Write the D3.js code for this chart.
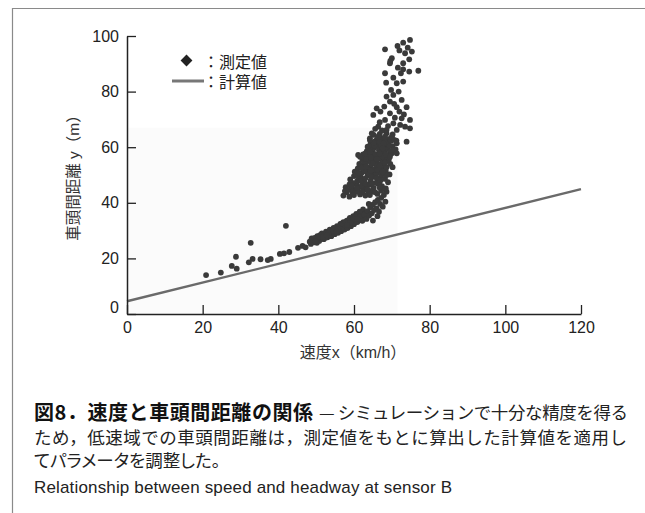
<!DOCTYPE html>
<html>
<head>
<meta charset="utf-8">
<script src="https://cdn.jsdelivr.net/npm/d3@7"></script>
<style>
html, body { margin: 0; padding: 0; background: #fff; }
svg { display: block; }
</style>
</head>
<body>
<div id="chart"></div>
<script>
"use strict";

// axis ticks
var xTicks = [0, 20, 40, 60, 80, 100, 120];
var yTicks = [0, 20, 40, 60, 80, 100];

// calculated headway (計算値): speed km/h -> headway m
var calcSpeed = [0, 120];
var calcHeadway = [4.6, 44.9];

var lowSpeedPts = [
	[20.9,14.0],[24.8,14.9],[27.7,17.3],[29.0,16.3],[28.8,20.6],[32.7,25.6],[32.2,18.6],
	[33.2,19.8],[35.3,19.7],[37.2,19.4],[38.0,19.8],[40.4,21.6],[41.5,21.8],[42.9,22.3],
	[42.0,31.7],[45.2,23.8],[46.4,24.5],[47.2,24.0],[49.2,26.4]
];
var bandPts = [
	[48.3,26.0],[48.8,27.2],[49.5,25.8],[50.0,26.8],[50.3,28.0],[50.8,26.3],[51.2,27.5],
	[51.5,29.0],[52.0,26.9],[52.2,28.2],[52.6,29.6],[53.0,27.6],[53.3,28.8],[53.6,30.3],
	[54.0,28.0],[54.2,29.4],[54.6,31.0],[54.9,28.7],[55.2,30.1],[55.5,31.6],[55.8,29.2],
	[56.1,30.6],[56.4,32.4],[56.6,29.8],[57.0,31.2],[57.2,33.0],[57.5,30.4],[57.8,31.9],
	[58.1,33.6],[58.3,30.9],[58.6,32.5],[58.9,34.6],[59.2,31.6],[59.5,33.2],[59.8,35.2],
	[60.0,32.3],[60.3,34.0],[60.6,36.0],[60.9,33.1],[61.2,34.8],[61.5,36.8],[61.8,33.8],
	[62.1,35.6],[62.4,37.6],[62.8,34.6],[63.2,36.4],[48.6,25.2],[49.6,27.4],[51.0,28.4],
	[52.4,27.4],[53.8,29.6],[55.0,30.8],[56.2,31.6],[57.4,32.2],[58.6,33.8],[59.8,34.2],
	[61.0,35.6],[62.0,36.6],[50.2,25.6],[49.0,26.2],[50.6,27.6],[51.8,27.8],[53.2,29.0],
	[54.4,30.0],[55.6,30.4],[56.8,32.6],[57.8,33.0],[59.0,32.8],[60.4,35.2],[61.6,35.0],
	[62.6,35.8],[49.8,26.2],[52.8,28.4],[55.4,29.6],[58.2,32.0],[60.8,34.2]
];
var armPts = [
	[62.2,33.5],[62.8,35.8],[63.3,34.2],[63.6,37.0],[64.0,35.4],[64.3,38.4],[64.7,36.2],
	[65.0,39.3],[65.3,37.4],[65.6,40.2],[66.0,38.0],[66.3,41.0],[66.6,36.8],[66.9,39.6],
	[67.2,41.8],[67.6,38.6],[67.9,42.8],[68.3,40.4],[68.6,44.0],[63.9,39.6],[65.0,33.6],
	[66.2,35.2]
];
var clusterPts = [
	[57.2,42.6],[58.0,43.8],[58.8,42.2],[59.6,43.4],[60.4,44.2],[61.6,43.0],[62.6,44.6],
	[63.8,43.6],[65.0,44.8],[66.2,43.2],[67.2,44.4],[57.8,45.6],[58.8,46.6],[59.6,45.2],
	[60.6,46.8],[61.4,45.6],[62.4,47.0],[63.2,45.8],[64.2,46.6],[65.2,45.4],[66.4,46.8],
	[67.4,46.0],[68.4,45.2],[59.0,48.4],[60.0,49.6],[60.8,47.8],[61.8,49.2],[62.6,48.2],
	[63.6,49.8],[64.4,48.0],[65.4,49.4],[66.2,48.4],[67.2,49.8],[68.2,48.6],[69.0,47.4],
	[60.2,51.2],[61.0,52.4],[61.8,50.6],[62.6,52.0],[63.4,51.0],[64.2,52.8],[65.0,50.8],
	[65.8,52.2],[66.6,51.0],[67.4,52.6],[68.4,51.4],[69.4,50.2],[61.4,54.0],[62.2,55.4],
	[63.0,53.6],[63.8,55.0],[64.6,53.8],[65.4,55.6],[66.2,54.2],[67.0,55.8],[67.8,53.6],
	[68.6,55.0],[69.6,54.0],[70.2,52.8],[62.4,57.4],[63.4,58.6],[64.2,56.8],[65.0,58.2],
	[65.8,56.6],[66.6,58.8],[67.4,57.2],[68.2,58.6],[69.0,56.6],[70.0,57.8],[61.1,57.2],
	[63.6,60.2],[64.4,61.4],[65.2,59.6],[66.0,61.0],[66.8,59.4],[67.6,61.6],[68.4,60.2],
	[69.2,61.8],[70.2,60.4],[71.0,59.2],[64.2,63.2],[65.2,64.4],[66.0,62.6],[66.8,64.8],
	[67.6,63.2],[68.6,65.0],[69.4,63.0],[70.2,64.6],[71.2,62.4],[57.6,44.2],[59.2,44.8],
	[60.0,42.8],[61.0,44.0],[62.0,46.0],[63.0,42.6],[64.6,44.0],[65.8,47.2],[66.8,45.4],
	[59.6,47.2],[61.2,48.6],[62.0,50.8],[63.0,47.0],[64.0,50.6],[64.8,47.0],[65.8,50.2],
	[66.8,47.6],[67.8,50.8],[68.6,50.0],[60.6,50.2],[61.8,53.4],[62.8,54.6],[63.6,52.2],
	[64.4,55.0],[65.2,52.0],[66.0,53.4],[66.8,56.2],[67.6,54.6],[68.6,52.8],[69.2,55.6],
	[62.8,56.0],[63.8,57.4],[64.6,59.4],[65.6,57.4],[66.4,60.0],[67.2,58.2],[68.0,56.2],
	[68.8,59.4],[69.6,58.6],[64.8,60.6],[65.6,62.2],[66.4,63.6],[67.2,60.4],[68.0,62.6],
	[68.8,61.2],[69.8,62.4],[70.6,62.6],[58.4,44.6],[60.8,45.4],[62.2,43.8],[63.6,44.8],
	[64.2,42.8],[65.6,43.8],[59.4,46.2],[61.8,47.8],[63.0,48.8],[64.6,49.2],[66.0,49.0],
	[67.0,48.2],[61.2,50.8],[62.8,51.4],[64.4,51.6],[66.2,51.8],[67.6,51.2],[62.0,52.6],
	[63.2,53.0],[65.0,54.4],[66.8,53.4],[68.2,54.4],[63.2,55.8],[64.6,56.2],[66.0,55.8],
	[67.6,56.8],[69.4,57.0],[63.0,57.8],[64.2,58.4],[65.4,60.4],[66.8,57.6],[68.4,57.4],
	[67.6,59.6],[65.2,61.6],[66.8,62.0],[68.2,63.8],[69.4,60.4],[70.4,59.0]
];
var upperPts = [
	[74.8,98.6],[73.0,97.6],[71.5,96.4],[68.2,95.2],[75.3,94.4],[73.5,93.8],[70.0,92.0],
	[69.6,91.0],[74.6,91.6],[69.5,90.2],[73.0,90.2],[77.0,87.5],[73.0,88.0],[74.6,87.2],
	[68.2,86.6],[72.4,86.6],[68.5,83.2],[73.0,83.6],[71.3,83.0],[68.6,78.2],[70.4,78.8],
	[72.6,77.0],[69.5,76.4],[66.0,74.0],[71.3,74.4],[73.9,74.4],[65.1,71.6],[69.5,72.2],
	[72.6,70.4],[74.8,69.8],[68.2,69.8],[66.4,67.4],[70.4,68.6],[73.5,67.4],[74.8,66.8],
	[71.3,66.2],[68.6,66.2],[64.7,65.0],[66.4,63.8],[70.0,63.8],[73.9,62.0],[71.3,61.4],
	[67.8,61.4],[64.2,62.6],[61.6,56.6],[71.3,57.8],[69.5,56.6],[67.0,72.8],[68.0,74.6],
	[70.6,75.6],[72.0,72.8],[66.8,69.0],[69.0,67.6],[72.2,68.0],[65.6,66.6],[67.4,66.0],
	[70.8,70.6],[73.2,71.8],[69.8,80.6],[71.8,80.0],[70.4,85.0],[71.6,88.6],[72.0,94.8],
	[74.2,95.8]
];

// faint shaded area behind the low-speed part (scan tint)
var shadeSpeed = 71.5, shadeHeadway = 67;

var legendLabels = ["：測定値", "：計算値"];
var xTitle = "速度x（km/h）";
var yTitle = "車頭間距離 y（m）";
var captionBold = "図8．速度と車頭間距離の関係";
var captionLines = [
	"— シミュレーションで十分な精度を得る",
	"ため，低速域での車頭間距離は，測定値をもとに算出した計算値を適用し",
	"てパラメータを調整した。"
];
var captionEn = "Relationship between speed and headway at sensor B";

var latin = "'Liberation Sans', Arial, 'Noto Sans CJK JP', sans-serif";
var jp = "'Noto Sans CJK JP', sans-serif";

var W = 645, H = 513;
var svg = d3.select("#chart").append("svg")
	.attr("width", W)
	.attr("height", H);

// frame lines (top and left)
svg.append("path")
	.attr("d", "M12.5," + H + "V8.5H" + W)
	.attr("fill", "none")
	.attr("stroke", "#8a8a8a")
	.attr("stroke-width", 1.2);

var x = d3.scaleLinear().domain([0, 120]).range([127, 581]);
var y = d3.scaleLinear().domain([0, 100]).range([314, 36]);

svg.append("rect")
	.attr("x", x(0))
	.attr("y", y(shadeHeadway))
	.attr("width", x(shadeSpeed) - x(0))
	.attr("height", y(0) - y(shadeHeadway))
	.attr("fill", "#fbfbfb");

// calculated line
var calcData = calcSpeed.map(function(s, i) { return [s, calcHeadway[i]]; });
svg.append("path")
	.datum(calcData)
	.attr("d", d3.line().x(function(d) { return x(d[0]); }).y(function(d) { return y(d[1]); }))
	.attr("fill", "none")
	.attr("stroke", "#6a6a6a")
	.attr("stroke-width", 2.4);

// measured points
var measured = lowSpeedPts.concat(bandPts, armPts, clusterPts, upperPts);
svg.append("g")
	.selectAll("circle")
	.data(measured)
	.enter()
	.append("circle")
	.attr("cx", function(d) { return x(d[0]); })
	.attr("cy", function(d) { return y(d[1]); })
	.attr("r", 2.9)
	.attr("fill", "#3a3a3a");

// axes, ticks pointing inward
var xAxis = svg.append("g")
	.attr("transform", "translate(0," + y(0) + ")")
	.call(d3.axisBottom(x).tickValues(xTicks).tickSizeInner(-9).tickSizeOuter(0).tickPadding(8));
var yAxis = svg.append("g")
	.attr("transform", "translate(" + x(0) + ",0)")
	.call(d3.axisLeft(y).tickValues(yTicks).tickSizeInner(-9).tickSizeOuter(0).tickPadding(8));

[xAxis, yAxis].forEach(function(ax) {
	ax.select(".domain").attr("stroke", "#222").attr("stroke-width", 1.5);
	ax.selectAll(".tick line").attr("stroke", "#222").attr("stroke-width", 1.3);
	ax.selectAll(".tick text")
		.attr("fill", "#222")
		.style("font-family", latin)
		.style("font-size", "16px");
});
// lift the y "0" so it clears the x "0"
yAxis.selectAll(".tick text").filter(function(d) { return d === 0; }).attr("dy", "-0.1em");

// axis titles
svg.append("text")
	.attr("x", 353)
	.attr("y", 352)
	.attr("text-anchor", "middle")
	.attr("dominant-baseline", "central")
	.attr("fill", "#333")
	.style("font-family", latin)
	.style("font-size", "16px")
	.text(xTitle);

svg.append("text")
	.attr("transform", "translate(73,174) rotate(-90)")
	.attr("text-anchor", "middle")
	.attr("dominant-baseline", "central")
	.attr("fill", "#333")
	.style("font-family", latin)
	.style("font-size", "15.5px")
	.text(yTitle);

// legend
var lg = svg.append("g");
lg.append("path")
	.attr("d", d3.symbol().type(d3.symbolSquare).size(70)())
	.attr("transform", "translate(186.5,60.5) rotate(45)")
	.attr("fill", "#222");
lg.append("line")
	.attr("x1", 172).attr("x2", 204)
	.attr("y1", 81).attr("y2", 81)
	.attr("stroke", "#777")
	.attr("stroke-width", 3);
lg.selectAll("text")
	.data(legendLabels)
	.enter()
	.append("text")
	.attr("x", 203)
	.attr("y", function(d, i) { return 60.5 + i * 20.5; })
	.attr("dominant-baseline", "central")
	.attr("fill", "#222")
	.style("font-family", jp)
	.style("font-size", "16px")
	.text(function(d) { return d; });

// caption
svg.append("text")
	.attr("x", 34)
	.attr("y", 411)
	.attr("dominant-baseline", "central")
	.attr("fill", "#111")
	.attr("textLength", 279)
	.attr("lengthAdjust", "spacing")
	.style("font-family", jp)
	.style("font-weight", "bold")
	.style("font-size", "20px")
	.text(captionBold);

svg.append("text")
	.attr("x", 319)
	.attr("y", 411)
	.attr("dominant-baseline", "central")
	.attr("fill", "#222")
	.attr("textLength", 309)
	.attr("lengthAdjust", "spacing")
	.style("font-family", jp)
	.style("font-size", "17.5px")
	.text(captionLines[0]);

svg.append("text")
	.attr("x", 34)
	.attr("y", 436)
	.attr("dominant-baseline", "central")
	.attr("fill", "#222")
	.attr("textLength", 593)
	.attr("lengthAdjust", "spacing")
	.style("font-family", jp)
	.style("font-size", "17.5px")
	.text(captionLines[1]);

svg.append("text")
	.attr("x", 34)
	.attr("y", 459)
	.attr("dominant-baseline", "central")
	.attr("fill", "#222")
	.style("font-family", jp)
	.style("font-size", "17.5px")
	.style("font-feature-settings", "'palt'")
	.text(captionLines[2]);

svg.append("text")
	.attr("x", 34)
	.attr("y", 487)
	.attr("dominant-baseline", "central")
	.attr("fill", "#222")
	.attr("textLength", 418)
	.attr("lengthAdjust", "spacing")
	.style("font-family", latin)
	.style("font-size", "17px")
	.text(captionEn);
</script>
</body>
</html>
